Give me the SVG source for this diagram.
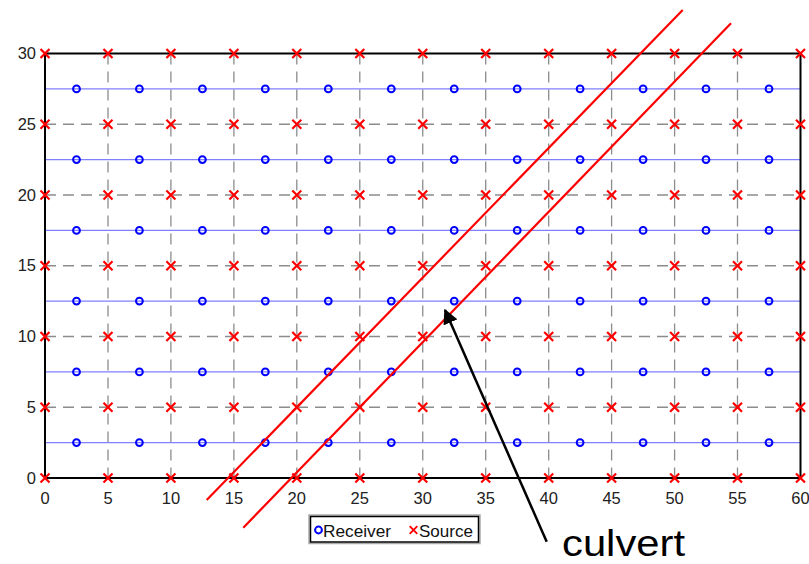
<svg xmlns="http://www.w3.org/2000/svg" xmlns:xlink="http://www.w3.org/1999/xlink" width="809" height="564" viewBox="0 0 809 564">
<style>
.grid{stroke:#8c8c8c;stroke-width:1.3;stroke-dasharray:11,7;fill:none}
.rline{stroke:#8080ff;stroke-width:1.2;fill:none}
.axis{stroke:#000;stroke-width:2;fill:none}
.rc{stroke:#0000ff;stroke-width:2;fill:none}
.src{stroke:#ff0000;stroke-width:2.2;fill:none}
.culv{stroke:#ff0000;stroke-width:2.2;fill:none}
.tick{font-family:"Liberation Sans",Arial,sans-serif;font-size:16.5px;fill:#222}
.leg{font-family:"Liberation Sans",Arial,sans-serif;font-size:17px;fill:#111}
.big{font-family:"Liberation Sans",Arial,sans-serif;font-size:36px;fill:#000}
</style>
<defs>
<circle id="rcv" r="3.4" class="rc"/>
<path id="srx" d="M-4.5,-4.5L4.5,4.5M-4.5,4.5L4.5,-4.5" class="src"/>
<marker id="ah" viewBox="0 0 10 10" refX="9" refY="5" markerWidth="6" markerHeight="6" markerUnits="strokeWidth" orient="auto">
<path d="M0,0L10,5L0,10z" fill="#000"/>
</marker>
</defs>
<rect width="809" height="564" fill="#fff"/>
<g id="grid">
<path class="grid" d="M108,53.5V478M170.9,53.5V478M233.9,53.5V478M296.8,53.5V478M359.8,53.5V478M422.75,53.5V478M485.7,53.5V478M548.7,53.5V478M611.6,53.5V478M674.6,53.5V478M737.5,53.5V478"/>
<path class="grid" d="M45,407.25H800.5M45,336.5H800.5M45,265.75H800.5M45,195H800.5M45,124.25H800.5"/>
</g>
<g id="receiver-lines">
<path class="rline" d="M45,442.6H800.5M45,371.9H800.5M45,301.1H800.5M45,230.4H800.5M45,159.6H800.5M45,88.9H800.5"/>
</g>
<g id="axes">
<rect x="45" y="53.5" width="755.5" height="424.5" class="axis"/>
</g>
<g id="tick-labels">
<g class="tick" text-anchor="middle">
<text x="45" y="504">0</text><text x="108" y="504">5</text><text x="170.9" y="504">10</text><text x="233.9" y="504">15</text><text x="296.8" y="504">20</text><text x="359.8" y="504">25</text><text x="422.75" y="504">30</text><text x="485.7" y="504">35</text><text x="548.7" y="504">40</text><text x="611.6" y="504">45</text><text x="674.6" y="504">50</text><text x="737.5" y="504">55</text><text x="800.5" y="504">60</text>
</g>
<g class="tick" text-anchor="end">
<text x="36" y="483.5">0</text><text x="36" y="412.8">5</text><text x="36" y="342">10</text><text x="36" y="271.3">15</text><text x="36" y="200.5">20</text><text x="36" y="129.8">25</text><text x="36" y="59">30</text>
</g>
</g>
<g id="receivers">
<g transform="translate(0,442.6)"><use href="#rcv" x="76.5"/><use href="#rcv" x="139.4"/><use href="#rcv" x="202.4"/><use href="#rcv" x="265.3"/><use href="#rcv" x="328.3"/><use href="#rcv" x="391.3"/><use href="#rcv" x="454.2"/><use href="#rcv" x="517.2"/><use href="#rcv" x="580.1"/><use href="#rcv" x="643.1"/><use href="#rcv" x="706"/><use href="#rcv" x="769"/></g>
<g transform="translate(0,371.9)"><use href="#rcv" x="76.5"/><use href="#rcv" x="139.4"/><use href="#rcv" x="202.4"/><use href="#rcv" x="265.3"/><use href="#rcv" x="328.3"/><use href="#rcv" x="391.3"/><use href="#rcv" x="454.2"/><use href="#rcv" x="517.2"/><use href="#rcv" x="580.1"/><use href="#rcv" x="643.1"/><use href="#rcv" x="706"/><use href="#rcv" x="769"/></g>
<g transform="translate(0,301.1)"><use href="#rcv" x="76.5"/><use href="#rcv" x="139.4"/><use href="#rcv" x="202.4"/><use href="#rcv" x="265.3"/><use href="#rcv" x="328.3"/><use href="#rcv" x="391.3"/><use href="#rcv" x="454.2"/><use href="#rcv" x="517.2"/><use href="#rcv" x="580.1"/><use href="#rcv" x="643.1"/><use href="#rcv" x="706"/><use href="#rcv" x="769"/></g>
<g transform="translate(0,230.4)"><use href="#rcv" x="76.5"/><use href="#rcv" x="139.4"/><use href="#rcv" x="202.4"/><use href="#rcv" x="265.3"/><use href="#rcv" x="328.3"/><use href="#rcv" x="391.3"/><use href="#rcv" x="454.2"/><use href="#rcv" x="517.2"/><use href="#rcv" x="580.1"/><use href="#rcv" x="643.1"/><use href="#rcv" x="706"/><use href="#rcv" x="769"/></g>
<g transform="translate(0,159.6)"><use href="#rcv" x="76.5"/><use href="#rcv" x="139.4"/><use href="#rcv" x="202.4"/><use href="#rcv" x="265.3"/><use href="#rcv" x="328.3"/><use href="#rcv" x="391.3"/><use href="#rcv" x="454.2"/><use href="#rcv" x="517.2"/><use href="#rcv" x="580.1"/><use href="#rcv" x="643.1"/><use href="#rcv" x="706"/><use href="#rcv" x="769"/></g>
<g transform="translate(0,88.9)"><use href="#rcv" x="76.5"/><use href="#rcv" x="139.4"/><use href="#rcv" x="202.4"/><use href="#rcv" x="265.3"/><use href="#rcv" x="328.3"/><use href="#rcv" x="391.3"/><use href="#rcv" x="454.2"/><use href="#rcv" x="517.2"/><use href="#rcv" x="580.1"/><use href="#rcv" x="643.1"/><use href="#rcv" x="706"/><use href="#rcv" x="769"/></g>
</g>
<g id="sources">
<g transform="translate(0,478)"><use href="#srx" x="45"/><use href="#srx" x="108"/><use href="#srx" x="170.9"/><use href="#srx" x="233.9"/><use href="#srx" x="296.8"/><use href="#srx" x="359.8"/><use href="#srx" x="422.75"/><use href="#srx" x="485.7"/><use href="#srx" x="548.7"/><use href="#srx" x="611.6"/><use href="#srx" x="674.6"/><use href="#srx" x="737.5"/><use href="#srx" x="800.5"/></g>
<g transform="translate(0,407.25)"><use href="#srx" x="45"/><use href="#srx" x="108"/><use href="#srx" x="170.9"/><use href="#srx" x="233.9"/><use href="#srx" x="296.8"/><use href="#srx" x="359.8"/><use href="#srx" x="422.75"/><use href="#srx" x="485.7"/><use href="#srx" x="548.7"/><use href="#srx" x="611.6"/><use href="#srx" x="674.6"/><use href="#srx" x="737.5"/><use href="#srx" x="800.5"/></g>
<g transform="translate(0,336.5)"><use href="#srx" x="45"/><use href="#srx" x="108"/><use href="#srx" x="170.9"/><use href="#srx" x="233.9"/><use href="#srx" x="296.8"/><use href="#srx" x="359.8"/><use href="#srx" x="422.75"/><use href="#srx" x="485.7"/><use href="#srx" x="548.7"/><use href="#srx" x="611.6"/><use href="#srx" x="674.6"/><use href="#srx" x="737.5"/><use href="#srx" x="800.5"/></g>
<g transform="translate(0,265.75)"><use href="#srx" x="45"/><use href="#srx" x="108"/><use href="#srx" x="170.9"/><use href="#srx" x="233.9"/><use href="#srx" x="296.8"/><use href="#srx" x="359.8"/><use href="#srx" x="422.75"/><use href="#srx" x="485.7"/><use href="#srx" x="548.7"/><use href="#srx" x="611.6"/><use href="#srx" x="674.6"/><use href="#srx" x="737.5"/><use href="#srx" x="800.5"/></g>
<g transform="translate(0,195)"><use href="#srx" x="45"/><use href="#srx" x="108"/><use href="#srx" x="170.9"/><use href="#srx" x="233.9"/><use href="#srx" x="296.8"/><use href="#srx" x="359.8"/><use href="#srx" x="422.75"/><use href="#srx" x="485.7"/><use href="#srx" x="548.7"/><use href="#srx" x="611.6"/><use href="#srx" x="674.6"/><use href="#srx" x="737.5"/><use href="#srx" x="800.5"/></g>
<g transform="translate(0,124.25)"><use href="#srx" x="45"/><use href="#srx" x="108"/><use href="#srx" x="170.9"/><use href="#srx" x="233.9"/><use href="#srx" x="296.8"/><use href="#srx" x="359.8"/><use href="#srx" x="422.75"/><use href="#srx" x="485.7"/><use href="#srx" x="548.7"/><use href="#srx" x="611.6"/><use href="#srx" x="674.6"/><use href="#srx" x="737.5"/><use href="#srx" x="800.5"/></g>
<g transform="translate(0,53.5)"><use href="#srx" x="45"/><use href="#srx" x="108"/><use href="#srx" x="170.9"/><use href="#srx" x="233.9"/><use href="#srx" x="296.8"/><use href="#srx" x="359.8"/><use href="#srx" x="422.75"/><use href="#srx" x="485.7"/><use href="#srx" x="548.7"/><use href="#srx" x="611.6"/><use href="#srx" x="674.6"/><use href="#srx" x="737.5"/><use href="#srx" x="800.5"/></g>
</g>
<g id="culvert-lines">
<line class="culv" x1="206.7" y1="500" x2="682.7" y2="10"/>
<line class="culv" x1="243.3" y1="527.7" x2="731" y2="23.3"/>
</g>
<g id="legend">
<rect x="309" y="515" width="171" height="28.5" fill="none" stroke="#aaa" stroke-width="1.5"/>
<rect x="310.5" y="516.5" width="168" height="25.5" fill="#fff" stroke="#000" stroke-width="1.5"/>
<use href="#rcv" x="318.5" y="530"/>
<text class="leg" x="323" y="536.5" textLength="68" lengthAdjust="spacingAndGlyphs">Receiver</text>
<use href="#srx" x="413.5" y="530" transform="translate(413.5,530) scale(0.85) translate(-413.5,-530)"/>
<text class="leg" x="419" y="536.5" textLength="54" lengthAdjust="spacingAndGlyphs">Source</text>
</g>
<g id="connectors">
<line x1="546.7" y1="541.7" x2="445" y2="310" stroke="#000" stroke-width="2.5" marker-end="url(#ah)"/>
</g>
<g id="label">
<text class="big" x="562" y="556" textLength="123" lengthAdjust="spacingAndGlyphs">culvert</text>
</g>
</svg>
